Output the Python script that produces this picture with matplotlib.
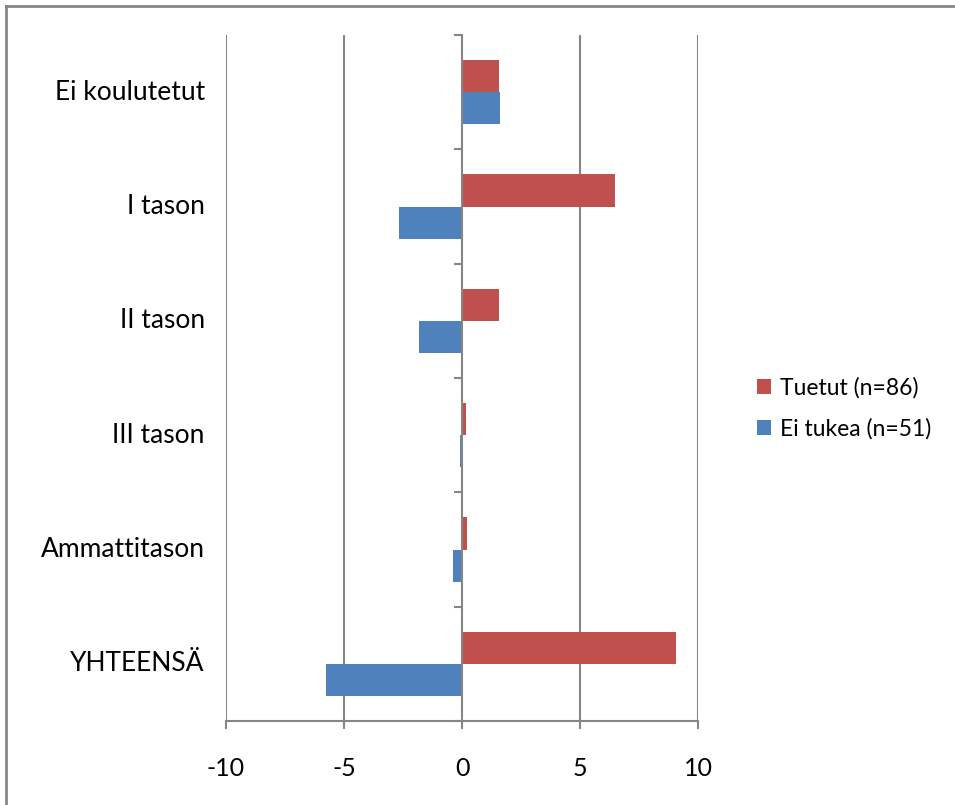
import matplotlib
matplotlib.use("Agg")
import matplotlib.pyplot as plt
from matplotlib.lines import Line2D
import numpy as np

plt.rcParams['font.family'] = ['Lato', 'DejaVu Sans']

categories = ["Ei koulutetut", "I tason", "II tason", "III tason", "Ammattitason", "YHTEENSÄ"]
tuetut = [1.56, 6.5, 1.55, 0.17, 0.2, 9.08]
ei_tukea = [1.6, -2.66, -1.81, -0.08, -0.38, -5.78]
series_labels = ["Tuetut (n=86)", "Ei tukea (n=51)"]
x_ticks = [-10, -5, 0, 5, 10]

RED = "#C0504D"
BLUE = "#4F81BD"
GRID = "#868686"
FS = 19

W, H = 955, 805
fig = plt.figure(figsize=(W / 100, H / 100), dpi=100)
ax = fig.add_axes([226 / W, (H - 721) / H, 472 / W, 686 / H])

y = np.arange(len(categories))
bh = 0.28
ax.barh(y - bh / 2, tuetut, height=bh, color=RED, label=series_labels[0], zorder=3)
ax.barh(y + bh / 2, ei_tukea, height=bh, color=BLUE, label=series_labels[1], zorder=3)

ax.set_xlim(-10, 10)
ax.set_ylim(len(categories) - 0.5, -0.5)

# vertical gridlines
for xv in x_ticks:
    if xv != 0:
        ax.axvline(xv, color=GRID, lw=1.5, zorder=1)

ax.spines['top'].set_visible(False)
ax.spines['right'].set_visible(False)
ax.spines['left'].set_position(('data', 0))
ax.spines['left'].set_color(GRID)
ax.spines['left'].set_linewidth(1.5)
ax.spines['left'].set_zorder(4)
ax.spines['bottom'].set_color(GRID)
ax.spines['bottom'].set_linewidth(1.5)

ax.set_xticks(x_ticks)
ax.set_xticklabels([str(v) for v in x_ticks])
ax.tick_params(axis='x', direction='out', length=6, width=1.5, color=GRID,
               labelsize=18, pad=20, labelcolor='black')

ax.set_yticks(np.arange(-0.5, len(categories), 1.0))
ax.set_yticklabels([])
ax.tick_params(axis='y', direction='out', length=6, width=1.5, color=GRID)

# category labels at the left edge of the plot area
for i, cat in enumerate(categories):
    ax.text(-0.045, i, cat, transform=ax.get_yaxis_transform(),
            ha='right', va='center', fontsize=FS, color='black')

leg = fig.legend(loc='upper left', bbox_to_anchor=(748 / W, 1 - 368 / H),
                 frameon=False, fontsize=16.5, handlelength=0.6, handleheight=0.6,
                 handletextpad=0.4, labelspacing=0.85, borderaxespad=0)

# chart area border (left and top edges)
fig.add_artist(Line2D([6 / W, 6 / W], [0, 1 - 6 / H], transform=fig.transFigure,
                      color=GRID, lw=2))
fig.add_artist(Line2D([6 / W, 1], [1 - 6 / H, 1 - 6 / H], transform=fig.transFigure,
                      color=GRID, lw=2))

fig.savefig("out.png", dpi=100)
